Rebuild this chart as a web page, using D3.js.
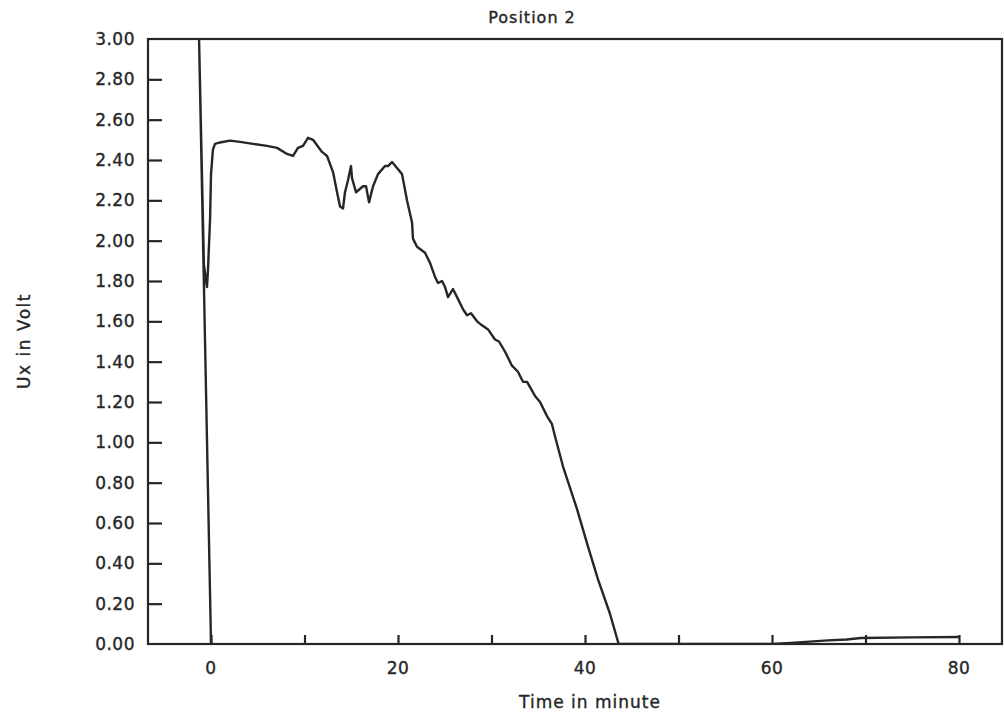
<!DOCTYPE html>
<html>
<head>
<meta charset="utf-8">
<script src="https://cdn.jsdelivr.net/npm/d3@7"></script>
<style>
  html, body { margin: 0; padding: 0; background: #fff; }
  svg { display: block; }
  text { font-family: "DejaVu Sans", sans-serif; fill: #262626; stroke: #262626; stroke-width: 0.35px; }
</style>
</head>
<body>
<script>
// Measured trace: time in minutes, Ux in volts
const timeMin = [
  0.0, -1.28, -0.76, -0.43, -0.32, -0.1, 0.0, 0.2, 0.43, 0.96, 2.03, 3.10, 4.49, 5.99,
  7.06, 8.13, 8.77, 9.30, 9.84, 10.37, 10.91, 11.87, 12.41, 13.05, 13.48, 13.80,
  14.12, 14.33, 14.65, 14.97, 15.08, 15.51, 16.26, 16.58, 16.90, 17.33, 17.86,
  18.61, 18.93, 19.36, 19.89, 20.43, 20.96, 21.50, 21.60, 22.03, 22.89, 23.42,
  23.96, 24.28, 24.71, 25.03, 25.35, 25.88, 26.42, 26.95, 27.38, 27.81, 28.45,
  28.98, 29.63, 30.37, 30.80, 31.44, 32.19, 32.83, 33.37, 33.80, 34.65, 35.19,
  35.94, 36.47, 36.79, 37.65, 39.14, 40.21, 41.39, 42.67, 43.6, 50.0, 60.0,
  62.0, 64.0, 66.0, 68.0, 69.5, 75.0, 80.0
];
const uxVolt = [
  0.00, 3.00, 1.88, 1.77, 1.86, 2.11, 2.33, 2.45, 2.48, 2.487, 2.496, 2.49, 2.48, 2.47,
  2.46, 2.43, 2.42, 2.46, 2.47, 2.51, 2.50, 2.44, 2.42, 2.34, 2.24, 2.17,
  2.16, 2.24, 2.30, 2.37, 2.31, 2.24, 2.27, 2.27, 2.19, 2.27, 2.33,
  2.37, 2.37, 2.39, 2.36, 2.33, 2.20, 2.09, 2.01, 1.97, 1.94, 1.89,
  1.82, 1.79, 1.80, 1.77, 1.72, 1.76, 1.71, 1.66, 1.63, 1.64, 1.60,
  1.58, 1.56, 1.51, 1.50, 1.45, 1.38, 1.35, 1.30, 1.30, 1.23, 1.20,
  1.13, 1.09, 1.03, 0.88, 0.67, 0.50, 0.32, 0.15, 0.00, 0.00, 0.00,
  0.005, 0.012, 0.018, 0.022, 0.03, 0.033, 0.035
];

const yTickValues = [0.0, 0.2, 0.4, 0.6, 0.8, 1.0, 1.2, 1.4, 1.6, 1.8, 2.0, 2.2, 2.4, 2.6, 2.8, 3.0];
const xTickValues = [0, 10, 20, 30, 40, 50, 60, 70, 80];
const xLabelValues = [0, 20, 40, 60, 80];

const titleText = "Position 2";
const xAxisTitle = "Time in minute";
const yAxisTitle = "Ux in Volt";

const W = 1004, H = 715;
const plot = { left: 148, right: 1002, top: 39, bottom: 644 };
const ink = "#262626";

const svg = d3.select("body").append("svg")
  .attr("width", W).attr("height", H);

const x = d3.scaleLinear()
  .domain([-6.74, 84.6])
  .range([plot.left, plot.right]);
const y = d3.scaleLinear()
  .domain([0, 3])
  .range([plot.bottom, plot.top]);

svg.append("defs").append("clipPath").attr("id", "plotClip")
  .append("rect")
  .attr("x", plot.left).attr("y", plot.top)
  .attr("width", plot.right - plot.left).attr("height", plot.bottom - plot.top);

// Y axis: ticks point into the plot
const yAxis = d3.axisRight(y)
  .tickValues(yTickValues.filter(v => v > 0 && v < 3))
  .tickSize(14)
  .tickFormat("");
const gy = svg.append("g")
  .attr("transform", `translate(${plot.left},0)`)
  .call(yAxis);
gy.select(".domain").remove();
gy.selectAll(".tick line").attr("stroke", ink).attr("stroke-width", 2.2);

// Y tick labels
svg.append("g").selectAll("text")
  .data(yTickValues)
  .join("text")
  .attr("x", 135)
  .attr("y", d => y(d) + 6)
  .attr("text-anchor", "end")
  .attr("font-size", 17)
  .attr("letter-spacing", 0.5)
  .text(d => d.toFixed(2));

// X axis: short ticks pointing up
const xAxis = d3.axisTop(x)
  .tickValues(xTickValues)
  .tickSize(9)
  .tickFormat("");
const gx = svg.append("g")
  .attr("transform", `translate(0,${plot.bottom})`)
  .call(xAxis);
gx.select(".domain").remove();
gx.selectAll(".tick line").attr("stroke", ink).attr("stroke-width", 2.2);

svg.append("g").selectAll("text")
  .data(xLabelValues)
  .join("text")
  .attr("x", d => x(d))
  .attr("y", plot.bottom + 30)
  .attr("text-anchor", "middle")
  .attr("font-size", 17)
  .attr("letter-spacing", 0.5)
  .text(d => d);

// Frame
svg.append("rect")
  .attr("x", plot.left).attr("y", plot.top)
  .attr("width", plot.right - plot.left).attr("height", plot.bottom - plot.top)
  .attr("fill", "none").attr("stroke", ink).attr("stroke-width", 2.2);

// Trace
const pts = timeMin.map((t, i) => [t, uxVolt[i]]);
const line = d3.line().x(d => x(d[0])).y(d => y(d[1]));
svg.append("path")
  .datum(pts)
  .attr("clip-path", "url(#plotClip)")
  .attr("d", line)
  .attr("fill", "none")
  .attr("stroke", ink)
  .attr("stroke-width", 2.4)
  .attr("stroke-linejoin", "round");

// Titles
svg.append("text")
  .attr("x", 532).attr("y", 23)
  .attr("text-anchor", "middle")
  .attr("font-size", 16)
  .attr("letter-spacing", 1)
  .text(titleText);

svg.append("text")
  .attr("x", 590).attr("y", 708)
  .attr("text-anchor", "middle")
  .attr("font-size", 17)
  .attr("letter-spacing", 1)
  .text(xAxisTitle);

svg.append("text")
  .attr("transform", "translate(30,341) rotate(-90)")
  .attr("text-anchor", "middle")
  .attr("font-size", 17)
  .attr("letter-spacing", 1.5)
  .text(yAxisTitle);
</script>
</body>
</html>
